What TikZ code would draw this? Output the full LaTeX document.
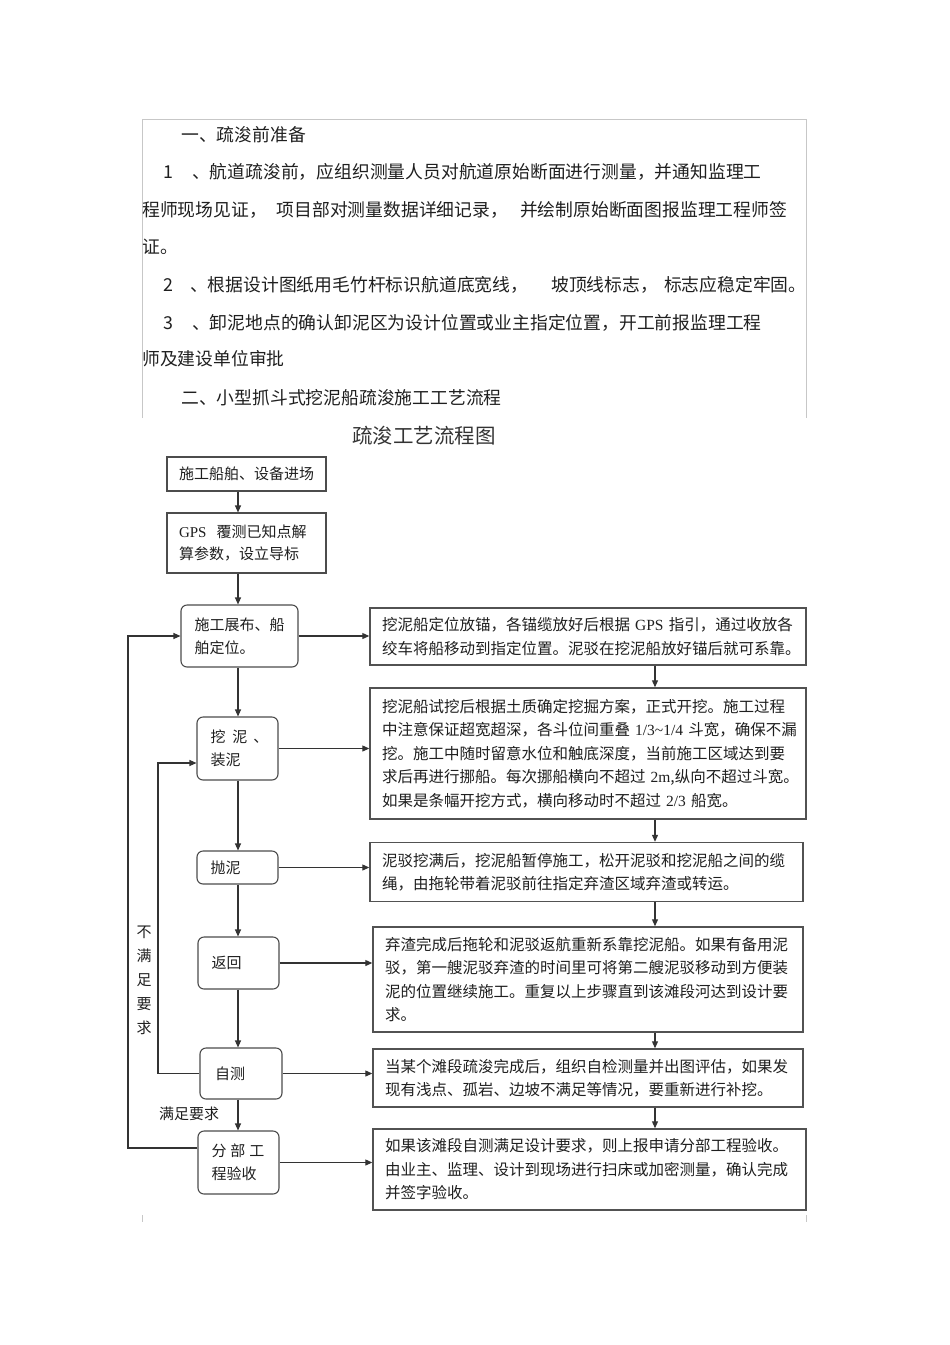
\documentclass[tikz,border=0pt]{standalone}
\usepackage{fontspec}
\setmainfont{Noto Sans CJK SC}
\newfontfamily\tnr{Liberation Serif}
\usetikzlibrary{arrows.meta,calc}
\begin{document}
\begin{tikzpicture}[x=1pt,y=-1pt,
  every node/.style={inner sep=0pt, text=black!88},
  toptext/.style={anchor=west, font=\fontsize{17.8pt}{22pt}\selectfont},
  sbox/.style={draw=black!70, line width=1.1pt, fill=white,
     font=\fontsize{15pt}{22pt}\selectfont, inner xsep=12pt},
  lbox/.style={draw=black!70, line width=1.1pt, rounded corners=6pt, fill=white,
     font=\fontsize{15pt}{23pt}\selectfont, align=left, inner xsep=13.5pt},
  rbox/.style={draw=black!68, line width=1.4pt, fill=white, align=left,
     font=\fontsize{15.5pt}{23.5pt}\selectfont, inner xsep=12pt},
  arr/.style={-{Triangle[length=7pt,width=6pt]}, line width=1.1pt, draw=black!80},
  frame/.style={draw=black!22, line width=0.6pt}
]
\useasboundingbox (0,0) rectangle (950,1345);

% page frame
\draw[frame] (142,418) -- (142,119) -- (806,119) -- (806,418);
\draw[frame] (142,1215) -- (142,1222);
\draw[frame] (806,1215) -- (806,1222);

% top text
\node[toptext] (t0) at (181,135) {一、疏浚前准备};
\node[toptext] (t1) at (163,172) {\makebox[29pt][l]{1}、航道疏浚前，应组织测量人员对航道原始断面进行测量，并通知监理工};
\node[toptext] (t2) at (142,210) {\mbox{程师现场见证，\hspace{10pt}项目部对测量数据详细记录，\hspace{12pt}并绘制原始断面图报监理工程师签}};
\node[toptext] (t3) at (142,247) {证。};
\node[toptext] (t4) at (163,285) {\mbox{\makebox[27pt][l]{2}、根据设计图纸用毛竹杆标识航道底宽线，\hspace{23pt}坡顶线标志，\hspace{6pt}标志应稳定牢固。}};
\node[toptext] (t5) at (163,323) {\makebox[29pt][l]{3}、卸泥地点的确认卸泥区为设计位置或业主指定位置，开工前报监理工程};
\node[toptext] (t6) at (142,359) {师及建设单位审批};
\node[toptext] (t7) at (181,398) {二、小型抓斗式挖泥船疏浚施工工艺流程};

% title
\node[font=\fontsize{20.5pt}{24pt}\selectfont, text=black!80] (title) at (424,436) {疏浚工艺流程图};

% left column
\node[sbox, minimum width=159pt, minimum height=34pt, align=center] (b1) at (246.5,474) {施工船舶、设备进场};
\node[sbox, minimum width=159pt, minimum height=60pt, text width=135pt, align=left] (b2) at (246.5,543)
  {\mbox{{\tnr GPS}\hspace{10pt}覆测已知点解}\\算参数，设立导标};
\node[lbox, minimum height=62pt, text width=90pt] (b3) at (239.5,636) {施工展布、船\\舶定位。};
\node[lbox, minimum height=63pt, text width=54pt] (b4) at (237.5,748.5) {\mbox{挖\hspace{7pt}泥\hspace{6pt}、}\\装泥};
\node[lbox, minimum height=33pt, text width=54pt] (b5) at (237.5,867.5) {抛泥};
\node[lbox, minimum height=52pt, text width=54pt] (b6) at (238.5,963) {返回};
\node[lbox, minimum height=51pt, text width=52pt, inner xsep=15pt] (b7) at (241,1073.5) {自测};
\node[lbox, minimum height=63pt, text width=54pt] (b8) at (238.5,1162.5) {\mbox{分\hspace{4pt}部\hspace{4pt}工}\\程验收};

% right column
\node[rbox, minimum height=57pt, text width=412pt] (r1) at (588,636.5)
  {\mbox{挖泥船定位放锚，各锚缆放好后根据 {\tnr GPS} 指引，通过收放各}\\绞车将船移动到指定位置。泥驳在挖泥船放好锚后就可系靠。};
\node[rbox, minimum height=131pt, text width=412pt] (r2) at (588,753.5)
  {挖泥船试挖后根据土质确定挖掘方案，正式开挖。施工过程\\
   \mbox{中注意保证超宽超深，各斗位间重叠 {\tnr 1/3\textasciitilde1/4} 斗宽，确保不漏}\\
   挖。施工中随时留意水位和触底深度，当前施工区域达到要\\
   \mbox{求后再进行挪船。每次挪船横向不超过 {\tnr 2m},纵向不超过斗宽。}\\
   \mbox{如果是条幅开挖方式，横向移动时不超过 {\tnr 2/3} 船宽。}};
\node[rbox, minimum height=59pt, text width=409pt] (r3) at (586.5,872)
  {泥驳挖满后，挖泥船暂停施工，松开泥驳和挖泥船之间的缆\\绳，由拖轮带着泥驳前往指定弃渣区域弃渣或转运。};
\node[rbox, minimum height=105pt, text width=406pt] (r4) at (588,979.5)
  {弃渣完成后拖轮和泥驳返航重新系靠挖泥船。如果有备用泥\\驳，第一艘泥驳弃渣的时间里可将第二艘泥驳移动到方便装\\泥的位置继续施工。重复以上步骤直到该滩段河达到设计要\\求。};
\node[rbox, minimum height=58pt, text width=406pt] (r5) at (588,1078)
  {当某个滩段疏浚完成后，组织自检测量并出图评估，如果发\\现有浅点、孤岩、边坡不满足等情况，要重新进行补挖。};
\node[rbox, minimum height=81pt, text width=409pt] (r6) at (589.5,1169.5)
  {如果该滩段自测满足设计要求，则上报申请分部工程验收。\\由业主、监理、设计到现场进行扫床或加密测量，确认完成\\并签字验收。};

% vertical axes
\coordinate (cx) at (238,0);
\coordinate (rx) at (655,0);

% left chain
\draw[arr] (b1.south -| cx) -- (b2.north -| cx);
\draw[arr] (b2.south -| cx) -- (b3.north -| cx);
\draw[arr] (b3.south -| cx) -- (b4.north -| cx);
\draw[arr] (b4.south -| cx) -- (b5.north -| cx);
\draw[arr] (b5.south -| cx) -- (b6.north -| cx);
\draw[arr] (b6.south -| cx) -- (b7.north -| cx);
\draw[arr] (b7.south -| cx) -- (b8.north -| cx);

% right chain
\draw[arr] (r1.south -| rx) -- (r2.north -| rx);
\draw[arr] (r2.south -| rx) -- (r3.north -| rx);
\draw[arr] (r3.south -| rx) -- (r4.north -| rx);
\draw[arr] (r4.south -| rx) -- (r5.north -| rx);
\draw[arr] (r5.south -| rx) -- (r6.north -| rx);

% left to right
\draw[arr] (b3.east) -- (b3.east -| r1.west);
\draw[arr] (b4.east) -- (b4.east -| r2.west);
\draw[arr] (b5.east) -- (b5.east -| r3.west);
\draw[arr] (b6.east) -- (b6.east -| r4.west);
\draw[arr] (b7.east) -- (b7.east -| r5.west);
\draw[arr] (b8.east) -- (b8.east -| r6.west);

% feedback loops
\coordinate (LO) at (128,900);
\coordinate (LI) at (158,900);
\draw[arr] ([yshift=14.5pt]b8.west) -| (LO) |- (b3.west);
\draw[arr] (b7.west) -| (LI) |- ([yshift=-14.5pt]b4.west);

% labels
\node[font=\fontsize{15pt}{24pt}\selectfont, align=center] (nl) at (144,980) {不\\满\\足\\要\\求};
\node[font=\fontsize{15pt}{18pt}\selectfont] (yl) at (189,1114) {满足要求};
\end{tikzpicture}
\end{document}
